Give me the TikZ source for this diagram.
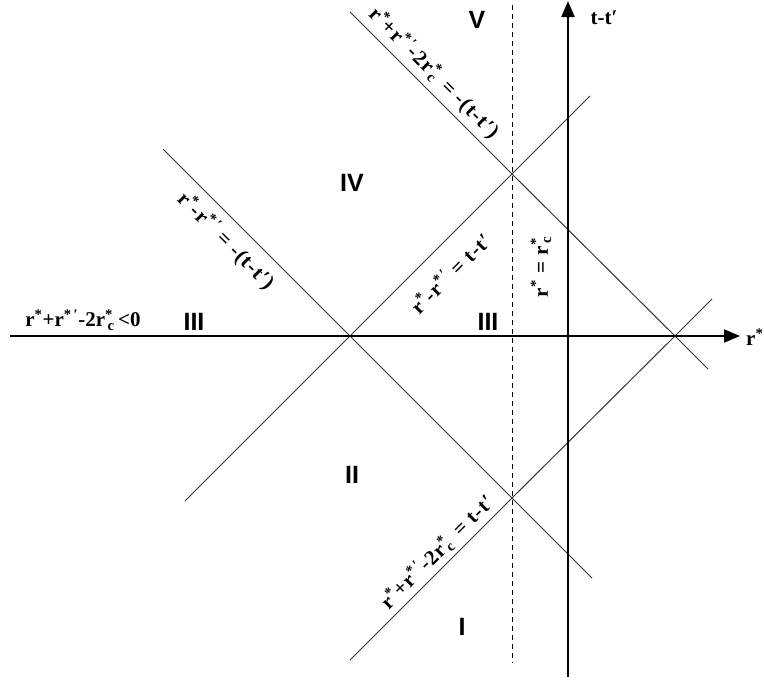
\documentclass[tikz,border=0pt]{standalone}
\usepackage{fontspec}
\setmainfont{Liberation Serif}
\newfontfamily\numfont{Liberation Sans}
\newfontfamily\spacedfont[LetterSpace=5]{Liberation Serif}
\usetikzlibrary{arrows.meta}
\newcommand\rst{r\textsuperscript{*}}
\newcommand\rsp{r\textsuperscript{*\,′}}
\newcommand\rsc{r\rlap{\textsuperscript{*}}\textsubscript{\,c}\,}
\begin{document}
\begin{tikzpicture}[x=1pt,y=-1pt,
  thinline/.style={line width=1pt, draw=black!80},
  axis/.style={line width=2pt, -{Triangle[length=16pt,width=13pt]}},
  dashline/.style={line width=1pt, dash pattern=on 5pt off 4pt},
  formula/.style={font=\bfseries\fontsize{21}{21}\selectfont, inner sep=0pt},
  spaced/.style={font=\spacedfont\bfseries\fontsize{21}{21}\selectfont, inner sep=0pt},
  region/.style={font=\numfont\bfseries\fontsize{25}{25}\selectfont, inner sep=0pt}]
\useasboundingbox (0,0) rectangle (764,683);
% key points
\coordinate (L) at (350,336);
\coordinate (T) at (512,174);
\coordinate (B) at (512,498);
\coordinate (R) at (675,336);
\coordinate (a1) at (185,501);
\coordinate (a2) at (590,96);
\coordinate (b1) at (163,149);
\coordinate (b2) at (592,578);
\coordinate (c1) at (350,12);
\coordinate (c2) at (708,369);
\coordinate (d1) at (350,660);
\coordinate (d2) at (712,299);
\coordinate (xs) at (10,336);
\coordinate (xe) at (740,336);
\coordinate (ys) at (568,677);
\coordinate (ye) at (568,1);
\coordinate (ds) at (512,5);
\coordinate (de) at (512,663);
% lines
\draw[thinline] (a1) -- (L) -- (T) -- (a2);
\draw[thinline] (b1) -- (L) -- (B) -- (b2);
\draw[thinline] (c1) -- (T) -- (R) -- (c2);
\draw[thinline] (d1) -- (B) -- (R) -- (d2);
\draw[dashline] (ds) -- (de);
\draw[axis] (xs) -- (xe);
\draw[axis] (ys) -- (ye);
% axis labels
\node[formula, anchor=west] (xl) at (746,337) {\rst};
\node[formula] (yl) at (604,18) {t-t′};
% formulas
\node[formula] (fl) at (83,320) {\rst+\rsp-2\rsc<0};
\node[spaced, rotate=90] (frc) at (541,265) {\rst\ = \rsc};
\node[spaced, rotate=45] (f1) at (450,273) {\rst-\rsp\ = t-t′};
\node[spaced, rotate=-45] (f2) at (226,241) {\rst-\rsp\ = -(t-t′)};
\node[spaced, rotate=-45] (f3) at (434,73) {\rst+\rsp-2\rsc\ = -(t-t′)};
\node[spaced, rotate=45] (f4) at (437,552) {\rst+\rsp-2\rsc\ = t-t′};
% regions
\node[region] (r3a) at (194,322) {III};
\node[region] (r3b) at (488,322) {III};
\node[region] (r4) at (352,183) {IV};
\node[region] (r5) at (477,20) {V};
\node[region] (r2) at (352,475) {II};
\node[region] (r1) at (462,627) {I};
\end{tikzpicture}
\end{document}
